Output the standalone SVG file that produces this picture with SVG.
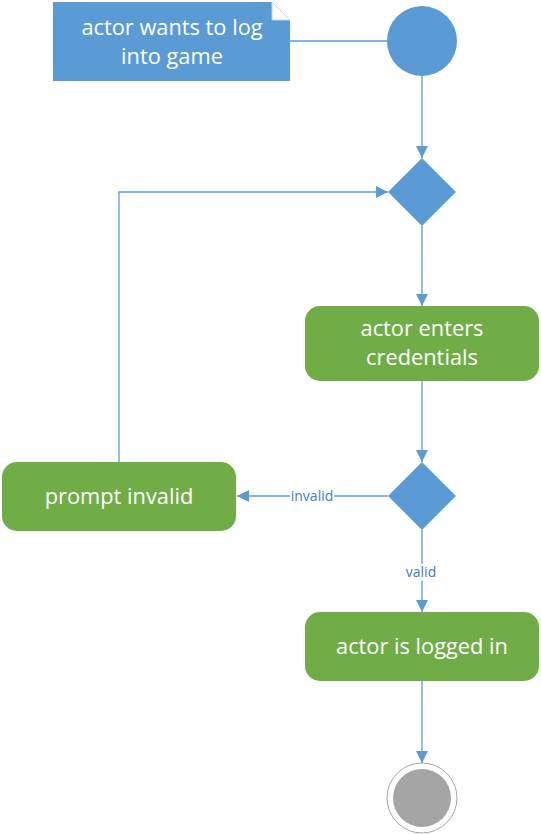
<svg xmlns="http://www.w3.org/2000/svg" width="541" height="834" viewBox="0 0 541 834">
<style>
.node{fill:#5B9BD5}
.act{fill:#70AD47}
.t{font-family:"Open Sans","Liberation Sans",sans-serif;font-size:21.8px;fill:#FFFFFF;text-anchor:middle}
.lbl{font-family:"Open Sans","Liberation Sans",sans-serif;font-size:14px;fill:#3B7DC4;text-anchor:middle}
.c{fill:none;stroke:#5B9BD5;stroke-width:1.3}
</style>
<defs>
<marker id="ah" viewBox="0 0 10 10" refX="10" refY="5" markerWidth="12" markerHeight="12" markerUnits="userSpaceOnUse" orient="auto">
<path d="M0,0 L10,5 L0,10 z" fill="#5B9BD5"/>
</marker>
</defs>
<g id="connectors">
<line class="c" x1="290" y1="41" x2="387" y2="41"/>
<line class="c" x1="422" y1="76" x2="422" y2="158" marker-end="url(#ah)"/>
<line class="c" x1="422" y1="226" x2="422" y2="306" marker-end="url(#ah)"/>
<line class="c" x1="422" y1="381" x2="422" y2="462" marker-end="url(#ah)"/>
<line class="c" x1="388" y1="496" x2="237" y2="496" marker-end="url(#ah)"/>
<polyline class="c" points="119,462 119,192 388,192" marker-end="url(#ah)"/>
<line class="c" x1="422" y1="530" x2="422" y2="612" marker-end="url(#ah)"/>
<line class="c" x1="422" y1="681" x2="422" y2="763" marker-end="url(#ah)"/>
<rect x="290" y="488" width="44" height="17" fill="#FFFFFF"/>
<text class="lbl" x="312" y="501">invalid</text>
<rect x="405" y="564" width="33" height="17" fill="#FFFFFF"/>
<text class="lbl" x="421" y="577">valid</text>
</g>
<g id="note">
<path class="node" d="M53,2 L272,2 L290,20 L290,81 L53,81 z"/>
<path d="M272,2 L290,20 L272,20 z" fill="#FFFFFF" stroke="#BDD7EE" stroke-width="1"/>
<text class="t" x="172" y="35">actor wants to log</text>
<text class="t" x="172" y="64">into game</text>
</g>
<g id="start">
<circle class="node" cx="422" cy="41" r="35"/>
</g>
<g id="decision1">
<path class="node" d="M422,158 L456,192 L422,226 L388,192 z"/>
</g>
<g id="enter">
<rect class="act" x="305" y="306" width="234" height="75" rx="15"/>
<text class="t" x="422" y="336">actor enters</text>
<text class="t" x="422" y="365">credentials</text>
</g>
<g id="decision2">
<path class="node" d="M422,462 L456,496 L422,530 L388,496 z"/>
</g>
<g id="prompt">
<rect class="act" x="2" y="462" width="234" height="69" rx="15"/>
<text class="t" x="119" y="504">prompt invalid</text>
</g>
<g id="logged">
<rect class="act" x="305" y="612" width="234" height="69" rx="15"/>
<text class="t" x="422" y="654">actor is logged in</text>
</g>
<g id="end">
<circle cx="422" cy="798" r="35" fill="#FFFFFF" stroke="#A5A5A5" stroke-width="1"/>
<circle cx="422" cy="798" r="29" fill="#A5A5A5"/>
</g>
</svg>
